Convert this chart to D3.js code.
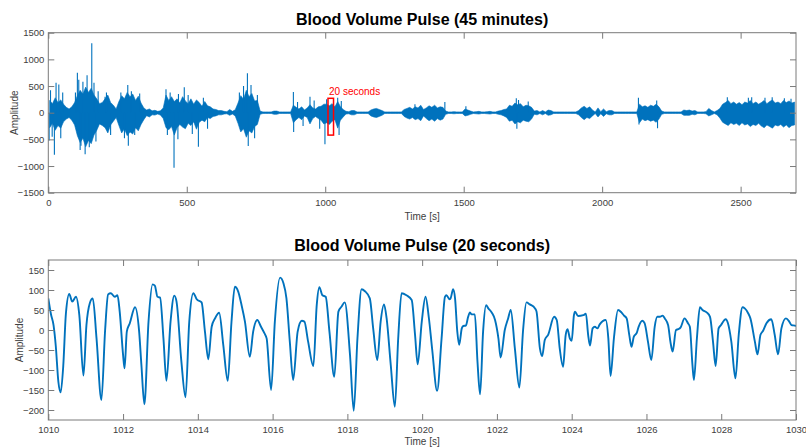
<!DOCTYPE html>
<html>
<head>
<meta charset="utf-8">
<script src="https://cdn.jsdelivr.net/npm/d3@7"></script>
<style>
  html, body { margin: 0; padding: 0; background: #fff; }
  svg { display: block; font-family: "Liberation Sans", Arial, Helvetica, sans-serif; }
</style>
</head>
<body>
<svg id="chart" width="806" height="448"></svg>
<script>
// ---------- Top chart: 45 minutes, 10-second bins (upper / lower envelope of the signal body)
const envBinSeconds = 10;
const envHi = [
  230,170,280,190,240,160,100,70,110,190,
  320,420,350,480,380,460,330,260,170,190,
  260,330,190,140,70,
  210,320,260,380,300,350,230,310,180,90,
  50,70,35,45,25,35,90,
  330,230,300,210,260,180,300,220,170,260,160,240,190,120,210,130,110,70,60,40,
  40,25,20,60,25,55,
  180,320,250,420,300,360,220,230,30,
  15,15,15,15,30,30,15,15,15,15,15,
  140,100,70,110,50,90,150,90,70,110,120,160,
  160,130,170,110,210,110,60,25,
  20,40,40,15,15,15,15,15,
  50,70,80,60,40,
  15,15,15,15,15,15,15,
  60,80,100,70,110,90,140,
  60,90,130,100,140,90,110,100,30,
  15,15,20,15,15,15,
  70,50,30,
  15,20,25,15,15,20,25,15,15,
  30,40,60,
  70,140,120,180,150,170,110,140,130,100,30,
  40,15,40,15,50,40,15,15,15,15,15,15,15,15,15,40,
  90,120,80,110,50,
  15,90,20,70,20,40,40,
  15,15,15,15,15,15,15,15,15,
  160,110,130,100,140,120,160,110,30,
  15,15,15,15,15,15,15,
  50,40,50,30,40,15,15,15,20,80,40,15,40,
  80,160,190,230,170,200,160,190,150,200,180,230,170,200,160,190,230,170,210,240,180,200,170,230,190,220,180,200
];
const envLo = [
  -280,-200,-330,-240,-290,-170,-120,-90,-140,-230,
  -430,-560,-480,-640,-520,-580,-420,-330,-210,-240,
  -280,-380,-230,-160,-90,
  -240,-380,-300,-430,-360,-400,-280,-340,-220,-130,
  -55,-80,-40,-45,-25,-45,-110,
  -280,-320,-260,-420,-280,-220,-270,-300,-200,-240,-170,-310,-180,-140,-170,-90,-110,-70,-60,-40,
  -40,-25,-20,-50,-25,-60,
  -200,-360,-300,-460,-340,-380,-260,-220,-30,
  -15,-15,-15,-15,-30,-30,-15,-15,-15,-15,-15,
  -190,-130,-90,-130,-60,-90,-210,-110,-70,-110,-140,-210,
  -190,-220,-160,-130,-290,-140,-80,-25,
  -20,-40,-40,-15,-15,-15,-15,-15,
  -60,-80,-90,-70,-50,
  -15,-15,-15,-15,-15,-15,-15,
  -70,-100,-120,-90,-130,-110,-150,
  -60,-110,-150,-120,-160,-110,-140,-120,-30,
  -15,-15,-20,-15,-15,-15,
  -60,-50,-30,
  -15,-20,-25,-15,-15,-20,-25,-15,-15,
  -30,-40,-60,
  -90,-160,-140,-210,-170,-190,-140,-160,-170,-120,-30,
  -40,-15,-40,-15,-50,-40,-15,-15,-15,-15,-15,-15,-15,-15,-15,-40,
  -90,-130,-90,-110,-60,
  -15,-80,-20,-70,-20,-40,-40,
  -15,-15,-15,-15,-15,-15,-15,-15,-15,
  -190,-120,-150,-130,-160,-140,-180,-120,-30,
  -15,-15,-15,-15,-15,-15,-15,
  -50,-50,-50,-30,-40,-15,-15,-15,-20,-60,-40,-15,-40,
  -100,-180,-210,-240,-190,-220,-200,-240,-190,-230,-210,-260,-220,-240,-200,-250,-280,-230,-260,-290,-230,-250,-220,-270,-230,-280,-240,-230
];
// isolated spikes: time [s], amplitude
const spikeT = [3,8,14,22,28,38,45,52,98,105,110,115,118,125,133,140,148,157,165,172,180,205,210,225,262,275,287,289,300,312,330,425,430,440,454,468,470,491,505,520,542,560,575,690,705,719,722,732,745,755,885,886,900,920,945,960,980,999,1005,1045,1050,1058,1324,1432,1508,1690,1692,1698,1733,2131,2133,2197,2200,2452,2528,2540,2588,2614,2658,2682];
const spikeV = [-520,420,-450,-790,560,530,-480,380,380,750,620,-700,-620,580,-780,700,-650,1300,560,-540,400,300,380,-420,380,-480,520,-620,400,-420,360,440,-420,380,-1030,-500,350,475,330,-400,-640,280,-300,380,500,740,-625,520,-480,330,390,-360,200,-250,300,230,-300,-590,250,280,-420,220,160,200,120,270,-300,240,210,280,-220,230,-290,290,280,290,280,290,270,260];

const topXTicks = [0, 500, 1000, 1500, 2000, 2500];
const topYTicks = [-1500, -1000, -500, 0, 500, 1000, 1500];
const zoomWindow = [1010, 1030];
const zoomBoxAmp = [-420, 270];

// ---------- Bottom chart: 20 seconds
const bvpT = [
  1010.00,1010.07,1010.14,1010.20,1010.27,1010.33,1010.40,1010.47,1010.56,1010.64,1010.74,1010.83,1010.94,
  1011.02,1011.11,1011.19,1011.29,1011.42,1011.52,1011.60,1011.67,1011.78,1011.85,1011.91,1012.00,1012.04,
  1012.10,1012.18,1012.32,1012.43,1012.49,1012.57,1012.68,1012.79,1012.85,1012.92,1012.99,1013.08,1013.16,
  1013.27,1013.37,1013.43,1013.56,1013.67,1013.77,1013.88,1013.97,1014.10,1014.19,1014.28,1014.37,1014.46,
  1014.57,1014.68,1014.80,1014.90,1014.99,
  1015.08,1015.17,1015.26,1015.39,1015.48,1015.59,1015.69,1015.78,1015.84,1015.96,1016.06,1016.20,1016.29,
  1016.37,1016.46,1016.55,1016.67,1016.78,1016.85,1016.95,1017.09,1017.18,1017.25,1017.33,1017.42,1017.52,
  1017.65,1017.76,1017.84,1017.93,1018.07,1018.17,1018.27,1018.38,1018.47,1018.60,1018.69,1018.80,1018.89,
  1018.98,1019.05,1019.16,1019.27,1019.36,1019.45,1019.58,1019.72,1019.81,1019.88,1019.99,1020.09,1020.18,
  1020.27,
  1020.40,1020.52,1020.61,1020.65,1020.73,1020.76,1020.83,1020.88,1020.94,1020.99,1021.06,1021.10,1021.17,
  1021.23,1021.28,1021.32,1021.41,1021.48,1021.55,1021.63,1021.71,1021.77,1021.86,1021.95,1022.04,1022.10,
  1022.21,1022.30,1022.37,1022.48,1022.60,1022.70,1022.79,1022.88,1023.02,1023.06,1023.15,1023.21,1023.28,
  1023.37,1023.53,1023.60,1023.68,1023.77,1023.84,1023.89,1023.95,1024.00,1024.06,1024.09,1024.17,1024.31,
  1024.38,1024.44,1024.49,1024.56,1024.62,1024.69,1024.75,1024.91,1024.98,1025.04,1025.13,1025.24,1025.33,
  1025.40,
  1025.47,1025.54,1025.60,1025.66,1025.74,1025.79,1025.89,1025.95,1026.04,1026.13,1026.22,1026.29,1026.36,
  1026.43,1026.49,1026.58,1026.64,1026.70,1026.79,1026.85,1026.91,1027.02,1027.11,1027.16,1027.23,1027.27,
  1027.35,1027.43,1027.50,1027.61,1027.70,1027.78,1027.85,1027.93,1027.99,1028.12,1028.18,1028.27,1028.38,
  1028.47,1028.57,1028.63,1028.72,1028.78,1028.90,1028.97,1029.05,1029.12,1029.21,1029.34,1029.43,1029.52,
  1029.61,1029.73,1029.82,1029.88,1029.97,1030.00
];
const bvpV = [
  79,40,12,-40,-130,-156,-90,40,90,71,83,37,-114,
  12,67,79,-21,-175,0,89,92,83,87,46,-62,-96,
  -4,17,57,-4,-87,-186,20,114,111,83,81,-21,-127,
  21,86,71,-79,-168,20,92,77,69,-4,-73,8,29,
  43,-37,-127,20,108,
  96,62,21,-67,-4,25,8,-8,-21,-150,21,131,117,
  79,-29,-125,-4,23,21,-29,-90,62,107,87,83,-4,
  -117,46,58,69,-62,-202,-20,102,97,79,4,-75,21,
  64,29,-87,-192,-20,92,87,75,-12,-86,21,83,30,
  -50,
  -152,-21,83,87,77,79,102,79,-4,-37,4,10,11,
  33,44,39,39,-79,-161,-4,62,54,44,25,-21,-69,
  0,29,50,-46,-144,0,69,64,54,46,-46,-65,-25,
  -12,33,25,-46,-92,-12,2,-21,-27,37,46,35,37,
  41,-12,-39,4,8,4,14,25,-21,-115,-20,50,44,
  36,
  29,-12,-42,-17,-7,8,23,17,-29,-75,8,33,33,
  36,29,12,-29,-54,0,2,6,29,17,8,-87,-125,
  -20,57,50,44,33,-29,-90,4,12,27,17,-29,-121,
  -10,57,54,42,29,-29,-61,-12,-2,17,27,-12,-61,
  4,29,21,12,11,10
];
const botXTicks = [1010,1012,1014,1016,1018,1020,1022,1024,1026,1028,1030];
const botYTicks = [-200,-150,-100,-50,0,50,100,150];

// ---------- Drawing
const svg = d3.select("#chart");
const lineColor = "#0072BD";
const axisColor = "#7a7a7a";
const labelColor = "#404040";

function frame(g, x, y, xTicks, yTicks, tickFmt) {
  const [X0, X1] = x.range();
  const [Y1, Y0] = y.range();
  const tick = 6;
  const ax = g.append("g").attr("class", "axes");
  ax.append("g").attr("transform", `translate(0,${Y1})`)
    .call(d3.axisBottom(x).tickValues(xTicks).tickFormat(tickFmt).tickSizeInner(-tick).tickSizeOuter(0).tickPadding(6.5));
  ax.append("g").attr("transform", `translate(0,${Y0})`)
    .call(d3.axisTop(x).tickValues(xTicks).tickFormat("").tickSizeInner(-tick).tickSizeOuter(0));
  ax.append("g").attr("transform", `translate(${X0},0)`)
    .call(d3.axisLeft(y).tickValues(yTicks).tickFormat(d3.format("d")).tickSizeInner(-tick).tickSizeOuter(0).tickPadding(4));
  ax.append("g").attr("transform", `translate(${X1},0)`)
    .call(d3.axisRight(y).tickValues(yTicks).tickFormat("").tickSizeInner(-tick).tickSizeOuter(0));
  ax.selectAll(".domain").remove();
  ax.selectAll(".tick line").attr("stroke", axisColor).attr("stroke-width", 1);
  ax.selectAll(".tick text").attr("fill", labelColor).attr("font-size", "9.5px")
    .attr("font-family", '"Liberation Sans", Arial, sans-serif');
  ax.append("rect").attr("x", X0).attr("y", Y0).attr("width", X1 - X0).attr("height", Y1 - Y0)
    .attr("fill", "none").attr("stroke", axisColor).attr("stroke-width", 1);
}

// ===== Top plot
{
  const X0 = 48.3, X1 = 796, Y0 = 32.7, Y1 = 192.7;
  const x = d3.scaleLinear().domain([0, 2700]).range([X0, X1]);
  const y = d3.scaleLinear().domain([-1500, 1500]).range([Y1, Y0]);
  const g = svg.append("g");
  svg.append("clipPath").attr("id", "clipTop").append("rect")
    .attr("x", X0).attr("y", Y0).attr("width", X1 - X0).attr("height", Y1 - Y0);
  const plot = g.append("g").attr("clip-path", "url(#clipTop)");

  const bins = envHi.map((h, i) => ({ t: i * envBinSeconds + envBinSeconds / 2, hi: h, lo: envLo[i] }));
  plot.append("path").datum(bins)
    .attr("d", d3.area().x(d => x(d.t)).y0(d => y(d.lo)).y1(d => y(d.hi)).curve(d3.curveLinear))
    .attr("fill", lineColor).attr("stroke", lineColor).attr("stroke-width", 0.6);

  const spikes = spikeT.map((t, i) => ({ t, v: spikeV[i] }));
  plot.selectAll("line.spike").data(spikes).join("line").attr("class", "spike")
    .attr("x1", d => x(d.t)).attr("x2", d => x(d.t))
    .attr("y1", y(0)).attr("y2", d => y(d.v))
    .attr("stroke", lineColor).attr("stroke-width", 1.1);

  frame(g, x, y, topXTicks, topYTicks, d3.format("d"));

  g.append("rect")
    .attr("x", x(zoomWindow[0])).attr("y", y(zoomBoxAmp[1]))
    .attr("width", x(zoomWindow[1]) - x(zoomWindow[0]))
    .attr("height", y(zoomBoxAmp[0]) - y(zoomBoxAmp[1]))
    .attr("fill", "none").attr("stroke", "#ff0000").attr("stroke-width", 1.5);
  g.append("text").attr("x", x(zoomWindow[0]) + 1).attr("y", y(zoomBoxAmp[1]) - 3)
    .attr("fill", "#ff0000").attr("font-size", "10px").text("20 seconds");

  g.append("text").attr("x", (X0 + X1) / 2).attr("y", 25).attr("text-anchor", "middle")
    .attr("font-weight", "bold").attr("font-size", "16px").attr("fill", "#000")
    .text("Blood Volume Pulse (45 minutes)");
  g.append("text").attr("x", (X0 + X1) / 2).attr("y", 219.5).attr("text-anchor", "middle")
    .attr("font-size", "10px").attr("fill", labelColor).text("Time [s]");
  g.append("text").attr("transform", `translate(18,${(Y0 + Y1) / 2}) rotate(-90)`)
    .attr("text-anchor", "middle").attr("font-size", "10px").attr("fill", labelColor).text("Amplitude");
}

// ===== Bottom plot
{
  const X0 = 48.3, X1 = 796, Y0 = 260, Y1 = 420;
  const x = d3.scaleLinear().domain([1010, 1030]).range([X0, X1]);
  const y = d3.scaleLinear().domain([-225, 175]).range([Y1, Y0]);
  const g = svg.append("g");
  svg.append("clipPath").attr("id", "clipBot").append("rect")
    .attr("x", X0).attr("y", Y0).attr("width", X1 - X0).attr("height", Y1 - Y0);
  const plot = g.append("g").attr("clip-path", "url(#clipBot)");

  const pts = bvpT.map((t, i) => ({ t, v: bvpV[i] }));
  plot.append("path").datum(pts)
    .attr("d", d3.line().x(d => x(d.t)).y(d => y(d.v)).curve(d3.curveMonotoneX))
    .attr("fill", "none").attr("stroke", lineColor).attr("stroke-width", 1.9)
    .attr("stroke-linejoin", "round");

  frame(g, x, y, botXTicks, botYTicks, d3.format("d"));

  g.append("text").attr("x", (X0 + X1) / 2).attr("y", 251).attr("text-anchor", "middle")
    .attr("font-weight", "bold").attr("font-size", "16px").attr("fill", "#000")
    .text("Blood Volume Pulse (20 seconds)");
  g.append("text").attr("x", (X0 + X1) / 2).attr("y", 445).attr("text-anchor", "middle")
    .attr("font-size", "10px").attr("fill", labelColor).text("Time [s]");
  g.append("text").attr("transform", `translate(22.5,${(Y0 + Y1) / 2}) rotate(-90)`)
    .attr("text-anchor", "middle").attr("font-size", "10px").attr("fill", labelColor).text("Amplitude");
}
</script>
</body>
</html>
